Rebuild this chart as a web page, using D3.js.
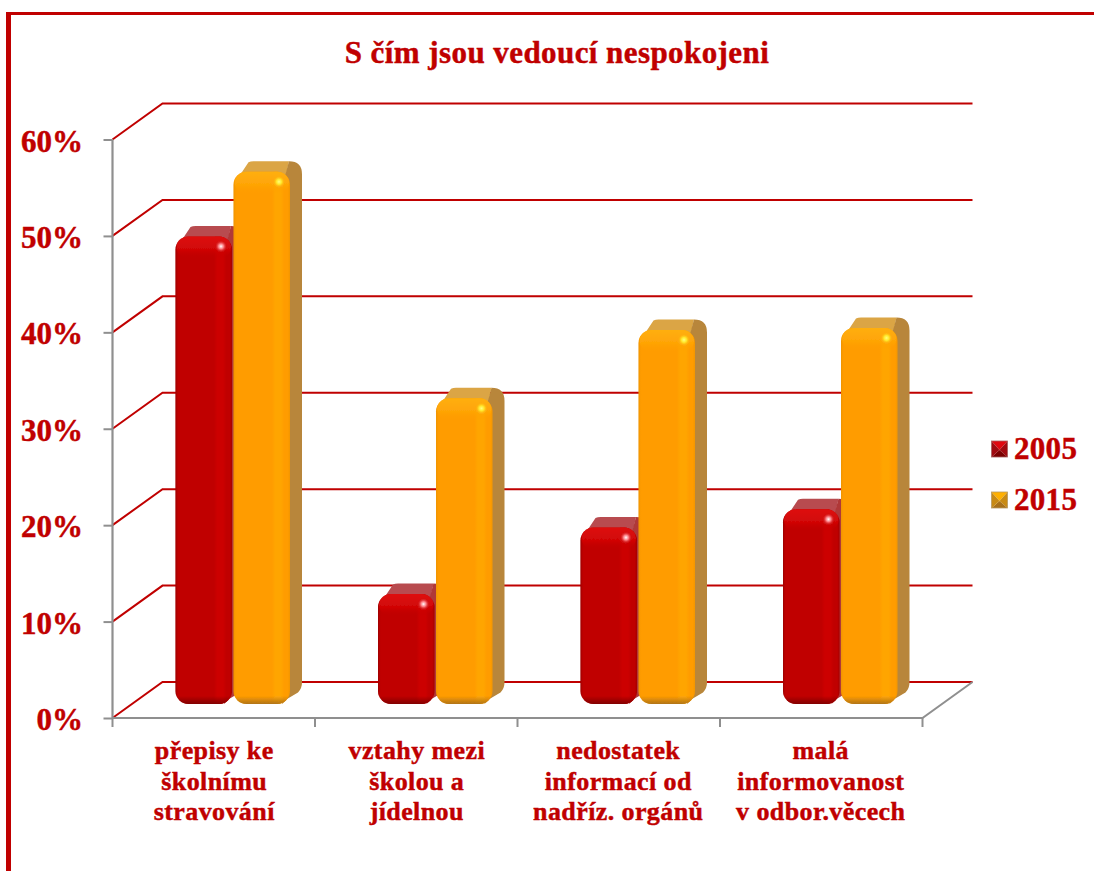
<!DOCTYPE html>
<html><head><meta charset="utf-8">
<script src="https://cdn.jsdelivr.net/npm/d3@7/dist/d3.min.js"></script>
<style>html,body{margin:0;padding:0;background:#fff;overflow:hidden}svg{display:block}
text{font-family:"Liberation Serif",serif;font-weight:bold;fill:#c00000;stroke:#c00000;stroke-width:.45px}</style>
</head><body><svg id="c" width="1094" height="871"></svg>
<script>
const chartTitle = "S čím jsou vedoucí nespokojeni";
const categories = ["přepisy ke školnímu stravování","vztahy mezi školou a jídelnou","nedostatek informací od nadříz. orgánů","malá informovanost v odbor.věcech"];
const categoryLines = [["přepisy ke","školnímu","stravování"],["vztahy mezi","školou a","jídelnou"],["nedostatek","informací od","nadříz. orgánů"],["malá","informovanost","v odbor.věcech"]];
const seriesNames = ["2005","2015"];
const values2005 = [48.5,11.4,18.3,20.2];
const values2015 = [55.2,31.7,38.8,39];
const yTicks = [0,10,20,30,40,50,60];
const colors = {"2005":{front:"#c00000",hi:"#cc0404",dark:"#7a0000",side:"#b03838",top:"#b84c50",mid:"#a00a10",leg:"#e00810"},
                "2015":{front:"#ff9c00",hi:"#ffa506",dark:"#a87018",side:"#b8863a",top:"#dba545",mid:"#c88a14",leg:"#ffb000"}};

const svg = d3.select("#c");
const W=1094,H=871;
const x = d3.scaleBand().domain(categories).range([112.5,922.5]);
const y = d3.scaleLinear().domain([0,60]).range([718,139.5]);
const wall={dx:50,dy:-36}, barD={dx:12,dy:-10.5};
const barW=56.5, barGap=1.5, barStart=63, barLift=14;
const red="#c00000", gray="#8f8f8f";

const defs=svg.append("defs");
defs.append("filter").attr("id","soft").append("feGaussianBlur").attr("stdDeviation",.45);
seriesNames.forEach(s=>{
  const c=colors[s];
  const g=defs.append("linearGradient").attr("id","f"+s);
  const edge=s==="2005"?.55:.2;
  [[0,c.dark,edge],[.06,c.front,0],[.68,c.hi,0],[.74,c.hi,1],[.84,c.hi,1],[.9,c.hi,0],[.96,c.dark,0],[1,c.dark,edge*.7]].forEach(d=>g.append("stop").attr("offset",d[0]).attr("stop-color",d[1]).attr("stop-opacity",d[2]));
  const b=defs.append("linearGradient").attr("id","v"+s).attr("x1",0).attr("x2",0).attr("y1",0).attr("y2",1);
  [[0,c.dark,0],[.8,c.dark,0],[1,c.dark,.9]].forEach(d=>b.append("stop").attr("offset",d[0]).attr("stop-color",d[1]).attr("stop-opacity",d[2]));
  const t=defs.append("linearGradient").attr("id","t"+s).attr("x1",0).attr("x2",0).attr("y1",0).attr("y2",1);
  [[0,s==="2005"?"#e01010":"#ffb010",.95],[.6,s==="2005"?"#d80808":"#ffa808",.7],[1,c.front,0]].forEach(d=>t.append("stop").attr("offset",d[0]).attr("stop-color",d[1]).attr("stop-opacity",d[2]));
  const r=defs.append("radialGradient").attr("id","s"+s);
  [[0,s==="2015"?"#ffff80":"#fff",1],[.4,s==="2015"?"#ffee30":"#ff8a90",.9],[1,c.front,0]].forEach(d=>r.append("stop").attr("offset",d[0]).attr("stop-color",d[1]).attr("stop-opacity",d[2]));
});

// page frame
svg.append("rect").attr("x",6).attr("y",12).attr("width",W-6).attr("height",3).attr("fill",red);
svg.append("rect").attr("x",6).attr("y",12).attr("width",5).attr("height",H-12).attr("fill",red);

// title
svg.append("text").attr("x",557).attr("y",63).attr("text-anchor","middle").attr("font-size",31).attr("letter-spacing",.43).text(chartTitle);

// grid: side wall and back wall
const grid=svg.append("g").attr("fill","none").attr("stroke",red).attr("stroke-width",2);
grid.selectAll("path").data(yTicks).join("path")
  .attr("d",t=>d3.line()([[x.range()[0],y(t)],[x.range()[0]+wall.dx,y(t)+wall.dy],[x.range()[1]+wall.dx,y(t)+wall.dy]]));

// floor
svg.append("path").attr("fill","none").attr("stroke",gray).attr("stroke-width",2)
  .attr("d",d3.line()([[x.range()[0],y(0)],[x.range()[1],y(0)],[x.range()[1]+wall.dx,y(0)+wall.dy]]));

// axes
const yAxis=d3.axisLeft(y).tickValues(yTicks).tickSize(9).tickFormat(d=>d+"%");
const gy=svg.append("g").attr("transform",`translate(${x.range()[0]},0)`).call(yAxis);
gy.select("path").attr("stroke",gray).attr("stroke-width",2.2).attr("d",`M0,${y(60)}V${y(0)}`);
gy.selectAll("line").attr("stroke",gray).attr("stroke-width",2);
svg.append("g").selectAll("line").data(d3.range(5).map(i=>x.range()[0]+i*x.step())).join("line")
  .attr("x1",d=>d).attr("x2",d=>d).attr("y1",y(0)).attr("y2",y(0)+9).attr("stroke",gray).attr("stroke-width",2);
gy.selectAll("text").attr("x",-29.5).attr("dy",0).attr("y",11.5).attr("font-size",31).attr("font-family","Liberation Serif").attr("fill",red);

// category labels
const labelShift=[0.5,0.5,-0.5,-0.5];
const lab=svg.append("g");
categories.forEach((c,i)=>{
  const cx=x(c)+x.bandwidth()/2+labelShift[i];
  lab.append("g").selectAll("text").data(categoryLines[i]).join("text")
    .attr("x",cx).attr("y",(d,j)=>759+j*30.5).attr("text-anchor","middle").attr("font-size",26).attr("letter-spacing",.4).text(d=>d);
});

// bars
function drawBar(g,left,topY,botY,s){
  const w=barW,dx=barD.dx,dy=barD.dy,r=13,c=colors[s];
  const L=left,R=left+w,T=topY,B=botY;
  g.attr("filter","url(#soft)");
  // top face
  g.append("path").attr("fill",c.top).attr("d",`M${L+3},${T+8}Q${L+5},${T+3} ${L+8},${T+1}L${L+dx+3},${T+dy+1}Q${L+dx+5},${T+dy} ${L+dx+8},${T+dy}H${R+dx-r}L${R-5},${T+8}Z`);
  // side face
  g.append("path").attr("fill",c.side).attr("d",`M${R-6},${T+8}L${R+dx-r},${T+dy}Q${R+dx},${T+dy} ${R+dx},${T+dy+r}V${B+dy-11}Q${R+dx},${B+dy-5} ${R+dx-4},${B+dy-1}L${R-3},${B-5}L${R-8},${B}Z`);
  // front
  g.append("rect").attr("x",L).attr("y",T).attr("width",w).attr("height",B-T).attr("rx",r).attr("fill",c.front);
  g.append("rect").attr("x",L).attr("y",T).attr("width",w).attr("height",B-T).attr("rx",r).attr("fill",`url(#f${s})`);
  g.append("rect").attr("x",L).attr("y",Math.max(T,B-40)).attr("width",w).attr("height",Math.min(40,B-T)).attr("rx",r).attr("fill",`url(#v${s})`);
  g.append("rect").attr("x",L+1).attr("y",T).attr("width",w-2).attr("height",22).attr("rx",12).attr("fill",`url(#t${s})`);
  g.append("circle").attr("cx",R-11).attr("cy",T+10).attr("r",6.5).attr("fill",`url(#s${s})`);
}
const bars=svg.append("g");
categories.forEach((c,i)=>{
  [values2005[i],values2015[i]].forEach((v,k)=>{
    drawBar(bars.append("g"),x(c)+barStart+k*(barW+barGap),y(v)-barLift,y(0)-barLift,seriesNames[k]);
  });
});

// legend
const legendG=svg.append("g");
seriesNames.forEach((s,i)=>{
  const c=colors[s],ly=449+i*51,lx=991.5,sz=16;
  const g=legendG.append("g");
  const cx=lx+sz/2,cy=ly+1;
  const tri=(pts,f)=>g.append("path").attr("fill",f).attr("d",d3.line()(pts)+"Z");
  const a=[lx,ly-sz/2],b=[lx+sz,ly-sz/2],e=[lx+sz,ly+sz/2],d=[lx,ly+sz/2],m=[cx,cy];
  tri([a,b,m],c.leg);tri([b,e,m],c.mid);tri([e,d,m],c.dark);tri([d,a,m],c.mid);
  g.append("rect").attr("x",lx).attr("y",ly-sz/2).attr("width",sz).attr("height",sz).attr("fill","none").attr("stroke",s==="2005"?"#a86060":"#b89a60").attr("stroke-width",.8);
  legendG.append("text").attr("x",1014).attr("y",ly+10).attr("font-size",31).attr("letter-spacing",.3).text(s);
});
</script></body></html>
